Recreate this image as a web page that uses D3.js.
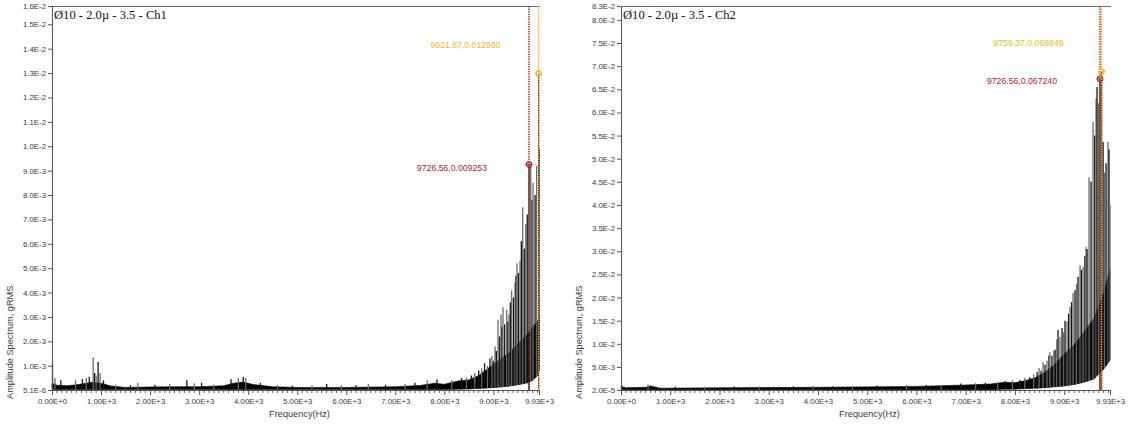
<!DOCTYPE html>
<html>
<head>
<meta charset="utf-8">
<script src="https://cdn.jsdelivr.net/npm/d3@7"></script>
<style>
  body { margin: 0; background: #fff; }
  svg { display: block; }
  .tick-label { font-family: "Liberation Sans", Arial, sans-serif; font-size: 7.8px; fill: #3a3a3a; }
  .axis-title { font-family: "Liberation Sans", Arial, sans-serif; font-size: 9.2px; fill: #3a3a3a; }
  .chart-title { font-family: "Liberation Serif", "Times New Roman", serif; font-size: 12.6px; fill: #111; }
  .cursor-label { font-family: "Liberation Sans", Arial, sans-serif; font-size: 8.7px; }
</style>
</head>
<body>
<svg id="chart" width="1134" height="426"></svg>
<script>
// ---- shared frequency axis ----
const freqMax = 9930;
const freqTickValues = [0, 1000, 2000, 3000, 4000, 5000, 6000, 7000, 8000, 9000, 9930];
const freqTickLabels = ["0.00E+0", "1.00E+3", "2.00E+3", "3.00E+3", "4.00E+3", "5.00E+3",
                        "6.00E+3", "7.00E+3", "8.00E+3", "9.00E+3", "9.93E+3"];

// ---- channel 1 ----
const ch1Title = "Ø10 - 2.0µ - 3.5 - Ch1";
const ch1AmpMin = 0.0000051;
const ch1AmpMax = 0.01575;
const ch1AmpTickValues = [0.0000051, 0.001, 0.002, 0.003, 0.004, 0.005, 0.006, 0.007, 0.008,
                          0.009, 0.010, 0.011, 0.012, 0.013, 0.014, 0.015, 0.01575];
const ch1AmpTickLabels = ["5.1E-6", "1.0E-3", "2.0E-3", "3.0E-3", "4.0E-3", "5.0E-3", "6.0E-3",
                          "7.0E-3", "8.0E-3", "9.0E-3", "1.0E-2", "1.1E-2", "1.2E-2", "1.3E-2",
                          "1.4E-2", "1.5E-2", "1.6E-2"];
// envelope of the dense noise trace
const ch1BandFreq = [0, 100, 300, 500, 700, 800, 1000, 1200, 1500, 2000, 2500, 3000, 3500, 3700,
                     3900, 4100, 4500, 5000, 6000, 7000, 7500, 7800, 8000, 8300, 8500, 8700,
                     8900, 9100, 9300, 9500, 9700, 9800, 9900, 9930];
const ch1BandLow  = [0.00003, 0.00003, 0.00003, 0.00003, 0.00003, 0.00003, 0.00003, 0.00003,
                     0.00003, 0.00003, 0.00003, 0.00003, 0.00003, 0.00003, 0.00003, 0.00003,
                     0.00003, 0.00003, 0.00003, 0.00003, 0.00003, 0.00003, 0.00003, 0.00004,
                     0.00005, 0.00007, 0.00009, 0.00012, 0.00016, 0.00022, 0.0003, 0.0004, 0.0006, 0.0008];
const ch1BandHigh = [0.00028, 0.0002, 0.00018, 0.00022, 0.00028, 0.00032, 0.00028, 0.00017,
                     0.00011, 0.00013, 0.00014, 0.00014, 0.00018, 0.00028, 0.00033, 0.00023,
                     0.00014, 0.00011, 0.00011, 0.00014, 0.00019, 0.00028, 0.00024, 0.00038,
                     0.00042, 0.0006, 0.0009, 0.0012, 0.0015, 0.0019, 0.0023, 0.0026, 0.0028, 0.003];
// individual spectral lines standing above the noise
const ch1PeakFreq = [10, 60, 180, 480, 620, 700, 760, 840, 870, 900, 940, 980, 1050, 1300, 1600,
                     1750, 2100, 2400, 2750, 2900, 3050, 3300, 3650, 3800, 3900, 3950, 4250, 4600,
                     4900, 5300, 5600, 5900, 6200, 6450, 6800, 7200, 7400, 7650, 7850, 8150, 8350,
                     8450, 8550, 8620, 8700, 8760, 8820, 8880, 8930, 8972, 9000, 9033, 9060, 9094,
                     9125, 9155, 9175, 9196, 9230, 9271, 9295, 9318, 9345, 9373, 9410, 9441, 9460,
                     9482, 9510, 9543, 9570, 9598, 9630, 9660, 9690, 9761, 9790, 9808, 9850, 9883,
                     9930];
const ch1PeakAmp  = [0.0011, 0.0005, 0.0004, 0.0004, 0.00045, 0.0005, 0.00055, 0.00135, 0.0007,
                     0.0006, 0.00115, 0.0007, 0.0004, 0.00022, 0.0002, 0.0003, 0.00022, 0.00025,
                     0.0004, 0.00028, 0.0003, 0.00022, 0.00045, 0.0005, 0.00055, 0.0005, 0.0003,
                     0.0002, 0.00018, 0.0002, 0.00025, 0.0002, 0.0002, 0.00025, 0.00022, 0.00025,
                     0.0003, 0.0004, 0.00045, 0.0004, 0.0005, 0.0005, 0.0006, 0.0007, 0.0008,
                     0.0009, 0.0011, 0.0010, 0.0013, 0.0014, 0.0012, 0.0018, 0.0016, 0.0029,
                     0.0022, 0.0031, 0.0026, 0.0034, 0.0027, 0.0033, 0.0028, 0.0031, 0.0036,
                     0.0041, 0.0038, 0.0044, 0.0047, 0.0052, 0.0048, 0.0053, 0.0061, 0.0075,
                     0.0058, 0.0068, 0.0072, 0.0092, 0.0078, 0.0085, 0.0080, 0.0092, 0.0099];
const ch1CursorFreq = [9726.56, 9921.87];
const ch1CursorAmp  = [0.009253, 0.012980];

// ---- channel 2 ----
const ch2Title = "Ø10 - 2.0µ - 3.5 - Ch2";
const ch2AmpMin = 0.00002;
const ch2AmpMax = 0.083;
const ch2AmpTickValues = [0.00002, 0.005, 0.010, 0.015, 0.020, 0.025, 0.030, 0.035, 0.040, 0.045,
                          0.050, 0.055, 0.060, 0.065, 0.070, 0.075, 0.080, 0.083];
const ch2AmpTickLabels = ["2.0E-5", "5.0E-3", "1.0E-2", "1.5E-2", "2.0E-2", "2.5E-2", "3.0E-2",
                          "3.5E-2", "4.0E-2", "4.5E-2", "5.0E-2", "5.5E-2", "6.0E-2", "6.5E-2",
                          "7.0E-2", "7.5E-2", "8.0E-2", "8.3E-2"];
const ch2BandFreq = [0, 100, 500, 600, 800, 2000, 4000, 6000, 7000, 7500, 7800, 8000, 8200, 8400,
                     8600, 8800, 9000, 9200, 9400, 9600, 9700, 9800, 9900, 9930];
const ch2BandLow  = [0.0001, 0.0001, 0.0001, 0.0001, 0.0001, 0.0001, 0.0001, 0.0001, 0.0001,
                     0.0001, 0.0002, 0.0002, 0.0003, 0.0004, 0.0005, 0.0007, 0.0009, 0.0012,
                     0.0017, 0.0024, 0.0035, 0.0045, 0.006, 0.0065];
const ch2BandHigh = [0.0008, 0.0005, 0.0006, 0.0009, 0.0004, 0.0005, 0.0006, 0.0008, 0.0011,
                     0.0013, 0.0017, 0.0016, 0.002, 0.0026, 0.0038, 0.0055, 0.0078, 0.0098,
                     0.0125, 0.0155, 0.018, 0.021, 0.025, 0.026];
const ch2PeakFreq = [15, 550, 1100, 1700, 2300, 2800, 3500, 3900, 4300, 4700, 5200, 5800, 6200,
                     6500, 6900, 7200, 7400, 7650, 7800, 7950, 8100, 8200, 8300, 8380, 8450, 8490,
                     8530, 8570, 8610, 8650, 8690, 8710, 8750, 8790, 8815, 8850, 8875, 8915, 8956,
                     8990, 9017, 9058, 9090, 9119, 9150, 9180, 9220, 9250, 9281, 9322, 9350, 9383,
                     9420, 9444, 9464, 9505, 9545, 9586, 9620, 9647, 9667, 9700, 9790, 9820, 9850,
                     9890, 9910, 9930];
const ch2PeakAmp  = [0.0011, 0.0012, 0.0007, 0.0007, 0.0008, 0.0008, 0.0008, 0.0009, 0.0008,
                     0.0009, 0.001, 0.0011, 0.0011, 0.0009, 0.0014, 0.0015, 0.0016, 0.0017,
                     0.0019, 0.0021, 0.0022, 0.0026, 0.0028, 0.0034, 0.0039, 0.0048, 0.0042,
                     0.006, 0.0055, 0.0064, 0.0075, 0.0082, 0.0074, 0.0085, 0.0087, 0.011, 0.013,
                     0.0115, 0.0134, 0.0125, 0.015, 0.0148, 0.0165, 0.018, 0.019, 0.021, 0.0216,
                     0.023, 0.0245, 0.027, 0.026, 0.0266, 0.029, 0.031, 0.0305, 0.046, 0.045,
                     0.058, 0.055, 0.063, 0.0655, 0.062, 0.0536, 0.047, 0.049, 0.0536, 0.052, 0.040];
const ch2CursorFreq = [9726.56, 9759.37];
const ch2CursorAmp  = [0.067240, 0.068849];

const cursorColors = ["#a8232a", "#f2b61c"];

const svg = d3.select("#chart");

function drawPanel(p) {
  const g = svg.append("g");
  const x = d3.scaleLinear().domain([0, freqMax]).range([p.left, p.right]);
  const y = d3.scaleLinear().domain([p.ampMin, p.ampMax]).range([p.bottom, p.top]);

  // frame: top rule
  g.append("line").attr("x1", p.left).attr("x2", p.right + 1)
    .attr("y1", p.top + 0.5).attr("y2", p.top + 0.5)
    .attr("stroke", "#6e6e6e").attr("stroke-width", 1);

  // noise envelope
  const band = p.bandFreq.map((f, i) => ({ f, lo: p.bandLow[i], hi: p.bandHigh[i] }));
  const lowAt = d3.scaleLinear().domain(p.bandFreq).range(p.bandLow);
  g.append("path")
    .datum(band)
    .attr("fill", "#000")
    .attr("stroke", "#000").attr("stroke-width", 0.6)
    .attr("d", d3.area().x(d => x(d.f)).y0(d => y(d.lo)).y1(d => y(d.hi)));

  // spectral lines
  g.append("g").selectAll("line")
    .data(p.peakFreq.map((f, i) => ({ f, a: p.peakAmp[i] })))
    .join("line")
    .attr("x1", d => x(d.f)).attr("x2", d => x(d.f))
    .attr("y1", d => y(lowAt(d.f))).attr("y2", d => y(d.a))
    .attr("stroke", (d, i) => i % 2 ? "#6a6a6a" : "#151515")
    .attr("stroke-width", 1.3);

  // lines under the cursors, drawn from the cursor readings
  p.cursorFreq.forEach((f, i) => {
    g.append("line")
      .attr("x1", x(f)).attr("x2", x(f))
      .attr("y1", y(p.ampMin)).attr("y2", y(p.cursorAmp[i]))
      .attr("stroke", "#111").attr("stroke-width", 1.2);
  });
  p.cursorFreq.forEach((f, i) => {
    const cx = x(f);
    g.append("line")
      .attr("x1", cx).attr("x2", cx)
      .attr("y1", p.top).attr("y2", p.bottom)
      .attr("stroke", cursorColors[i]).attr("stroke-width", 1.4)
      .attr("stroke-dasharray", "1.5,1");
    const cy = y(p.cursorAmp[i]);
    g.append("circle").attr("cx", cx).attr("cy", cy).attr("r", 2.6)
      .attr("fill", "none").attr("stroke", cursorColors[i]).attr("stroke-width", 1.2);
    g.append("line").attr("x1", cx - 3.5).attr("x2", cx + 3.5).attr("y1", cy).attr("y2", cy)
      .attr("stroke", cursorColors[i]).attr("stroke-width", 1);
    g.append("text")
      .attr("class", "cursor-label")
      .attr("x", cx + p.labelOffsets[i][0]).attr("y", cy + p.labelOffsets[i][1])
      .attr("text-anchor", "end")
      .attr("fill", cursorColors[i])
      .text(`${f.toFixed(2)},${p.cursorAmp[i].toFixed(6)}`);
  });

  // y axis
  const yAxis = d3.axisLeft(y)
    .tickValues(p.ampTickValues)
    .tickFormat((d, i) => p.ampTickLabels[i])
    .tickSize(4).tickPadding(2);
  const ya = g.append("g").attr("transform", `translate(${p.left},0)`).call(yAxis);
  ya.select(".domain").attr("stroke", "#555");
  ya.selectAll(".tick line").attr("stroke", "#555");
  ya.selectAll(".tick text").attr("class", "tick-label").attr("fill", null);

  // x axis: minor ticks every 100 Hz, majors at the labelled values
  const minor = d3.range(0, freqMax, 100).filter(v => v % 1000 !== 0);
  g.append("g").selectAll("line").data(minor).join("line")
    .attr("x1", d => x(d)).attr("x2", d => x(d))
    .attr("y1", p.bottom).attr("y2", p.bottom + 3)
    .attr("stroke", "#666");
  const xAxis = d3.axisBottom(x)
    .tickValues(freqTickValues)
    .tickFormat((d, i) => freqTickLabels[i])
    .tickSize(5).tickPadding(3);
  const xa = g.append("g").attr("transform", `translate(0,${p.bottom})`).call(xAxis);
  xa.select(".domain").attr("stroke", "#555");
  xa.selectAll(".tick line").attr("stroke", "#555");
  xa.selectAll(".tick text").attr("class", "tick-label").attr("fill", null);

  // titles
  g.append("text").attr("class", "chart-title")
    .attr("x", p.left + 2).attr("y", p.top + 13).text(p.title);
  g.append("text").attr("class", "axis-title")
    .attr("x", (p.left + p.right) / 2 + 4).attr("y", p.bottom + 27)
    .attr("text-anchor", "middle").text("Frequency(Hz)");
  g.append("text").attr("class", "axis-title")
    .attr("transform", `translate(${p.left - 39},${p.bottom + 9}) rotate(-90)`)
    .attr("text-anchor", "start").text("Amplitude Spectrum, gRMS");
}

drawPanel({
  title: ch1Title, left: 52, right: 539, top: 6, bottom: 390,
  ampMin: ch1AmpMin, ampMax: ch1AmpMax,
  ampTickValues: ch1AmpTickValues, ampTickLabels: ch1AmpTickLabels,
  bandFreq: ch1BandFreq, bandLow: ch1BandLow, bandHigh: ch1BandHigh,
  peakFreq: ch1PeakFreq, peakAmp: ch1PeakAmp,
  cursorFreq: ch1CursorFreq, cursorAmp: ch1CursorAmp,
  labelOffsets: [[-42, 7], [-38, -26]]
});

drawPanel({
  title: ch2Title, left: 621, right: 1110, top: 6, bottom: 390,
  ampMin: ch2AmpMin, ampMax: ch2AmpMax,
  ampTickValues: ch2AmpTickValues, ampTickLabels: ch2AmpTickLabels,
  bandFreq: ch2BandFreq, bandLow: ch2BandLow, bandHigh: ch2BandHigh,
  peakFreq: ch2PeakFreq, peakAmp: ch2PeakAmp,
  cursorFreq: ch2CursorFreq, cursorAmp: ch2CursorAmp,
  labelOffsets: [[-43, 5], [-38, -25]]
});
</script>
</body>
</html>
